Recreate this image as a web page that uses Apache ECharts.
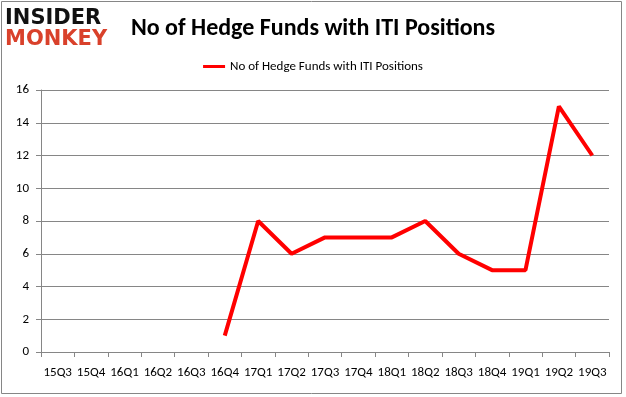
<!DOCTYPE html>
<html><head><meta charset="utf-8">
<script src="https://cdn.jsdelivr.net/npm/echarts@6/dist/echarts.min.js"></script>
<style>html,body{margin:0;padding:0;background:#fff}#c{width:626px;height:397px}</style>
</head><body><div id="c"></div>
<script>
const categories = ['15Q3','15Q4','16Q1','16Q2','16Q3','16Q4','17Q1','17Q2','17Q3','17Q4','18Q1','18Q2','18Q3','18Q4','19Q1','19Q2','19Q3'];
const hedgeFunds = [null,null,null,null,null,1,8,6,7,7,7,8,6,5,5,15,12];
const seriesName = 'No of Hedge Funds with ITI Positions';
const chart = echarts.init(document.getElementById('c'));
const font = 'Carlito, "Open Sans", "Liberation Sans", sans-serif';
chart.setOption({
  animation:false,
  title:{text:seriesName,left:'center',top:12,textStyle:{fontFamily:font,fontSize:24,fontWeight:'bold',color:'#000'}},
  legend:{top:55,left:'center',itemWidth:22,itemHeight:3,itemGap:8,icon:'rect',textStyle:{fontFamily:font,fontSize:13,color:'#000'},data:[seriesName]},
  grid:{left:41,right:17,top:90,bottom:45,containLabel:false},
  xAxis:{type:'category',data:categories,boundaryGap:true,
    axisLine:{lineStyle:{color:'#868686'}},axisTick:{show:true,length:5,lineStyle:{color:'#868686'}},
    axisLabel:{color:'#000',fontFamily:font,fontSize:13,margin:14,interval:0}},
  yAxis:{type:'value',min:0,max:16,interval:2,
    axisLine:{show:true,lineStyle:{color:'#868686'}},axisTick:{show:true,length:5,lineStyle:{color:'#868686'}},
    splitLine:{lineStyle:{color:'#868686'}},
    axisLabel:{color:'#000',fontFamily:font,fontSize:13,margin:12}},
  series:[{name:seriesName,type:'line',data:hedgeFunds,symbol:'none',connectNulls:false,
    lineStyle:{color:'#ff0000',width:4},itemStyle:{color:'#ff0000'}}],
  graphic:[
    {type:'rect',shape:{x:1.5,y:1.5,width:620,height:392},style:{fill:'none',stroke:'#868686',lineWidth:1},silent:true},
    {type:'text',left:5,top:8,style:{text:'INSIDER',fontFamily:'"DejaVu Sans", sans-serif',fontWeight:'bold',fontSize:21,fill:'#111'}},
    {type:'text',left:5,top:29,style:{text:'MONKEY',fontFamily:'"DejaVu Sans", sans-serif',fontWeight:'bold',fontSize:21,fill:'#d9412b'}}
  ]
});
</script></body></html>
